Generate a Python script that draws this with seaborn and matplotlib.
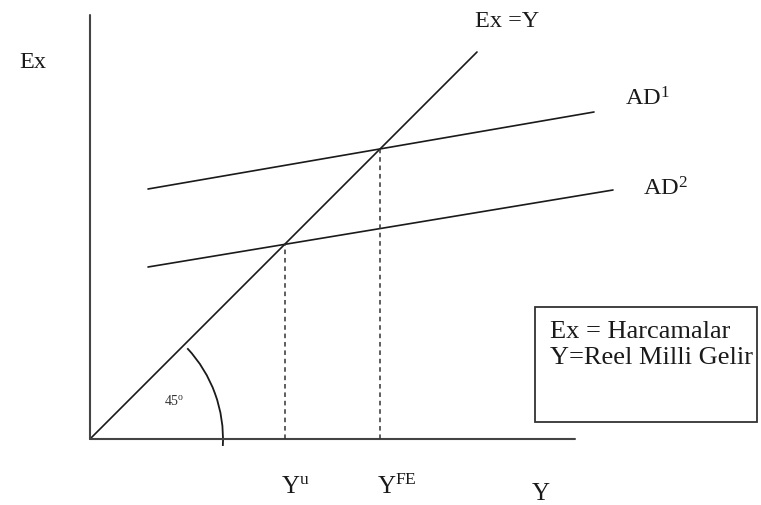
import matplotlib
matplotlib.use('Agg')
import matplotlib.pyplot as plt
from matplotlib.patches import Arc, Rectangle
import numpy as np
import seaborn as sns
import pandas as pd

# schematic values (income Y on x, spending Ex on y)
axis_len_x = 485
axis_len_y = 424
line45_x = [0, 387]
ad1_x = [58, 504]
ad1_y = [250, 327]
ad2_x = [58, 523]
ad2_y = [172, 249]
arc_radius = 133
legend_lines = ['Ex = Harcamalar', 'Y=Reel Milli Gelir']

sns.set_theme(style='white')
plt.rcParams['font.family'] = ['Liberation Serif', 'DejaVu Serif']
plt.rcParams['mathtext.fontset'] = 'custom'
plt.rcParams['mathtext.rm'] = 'Liberation Serif'
plt.rcParams['mathtext.it'] = 'Liberation Serif'

def crossing(xs, ys):
    # where the AD line meets Ex = Y
    m = (ys[1] - ys[0]) / (xs[1] - xs[0])
    b = ys[0] - m * xs[0]
    return b / (1 - m)

yu = crossing(ad2_x, ad2_y)
yfe = crossing(ad1_x, ad1_y)

lines = pd.DataFrame({
    'x': [0, axis_len_x, 0, 0] + line45_x + ad1_x + ad2_x,
    'y': [0, 0, 0, axis_len_y] + line45_x + ad1_y + ad2_y,
    'name': ['xaxis'] * 2 + ['yaxis'] * 2 + ['45'] * 2 + ['AD1'] * 2 + ['AD2'] * 2,
})
dashed = pd.DataFrame({
    'x': [yu, yu, yfe, yfe],
    'y': [0, yu, 0, yfe],
    'name': ['u', 'u', 'fe', 'fe'],
})

fig = plt.figure(figsize=(7.61, 5.06), dpi=100)
ax = fig.add_axes([0, 0, 1, 1])
ax.set_xlim(-90, 671)
ax.set_ylim(-66, 440)
ax.axis('off')

for name, grp in lines.groupby('name'):
    lw = 1.5 if 'axis' in name else 1.2
    col = '#444444' if 'axis' in name else '#1a1a1a'
    sns.lineplot(data=grp, x='x', y='y', ax=ax, color=col, linewidth=lw,
                 sort=False, estimator=None)
for name, grp in dashed.groupby('name'):
    sns.lineplot(data=grp, x='x', y='y', ax=ax, color='#333333', linewidth=1.1,
                 linestyle=(0, (3, 2.5)), sort=False, estimator=None)
ax.set_xlabel('')
ax.set_ylabel('')

ax.add_patch(Arc((0, 0), 2 * arc_radius, 2 * arc_radius, theta1=-3, theta2=43,
                 color='#1a1a1a', linewidth=1.3))
ax.text(84, 39, '45$^{\\mathrm{o}}$', fontsize=10, ha='center', va='center', color='#333333')

ax.text(-57, 378, 'Ex', fontsize=17.5, ha='center', va='center', color='#1a1a1a')
ax.text(385, 419, 'Ex =Y', fontsize=17.5, ha='left', va='center', color='#1a1a1a')
ax.text(535, 341, 'AD$^{\\mathrm{1}}$', fontsize=17.5, ha='left', va='center', color='#1a1a1a')
ax.text(553, 251, 'AD$^{\\mathrm{2}}$', fontsize=17.5, ha='left', va='center', color='#1a1a1a')
ax.text(yu + 11, -47, 'Y$^{\\mathrm{u}}$', fontsize=18, ha='center', va='center', color='#1a1a1a')
ax.text(yfe + 17, -47, 'Y$^{\\mathrm{FE}}$', fontsize=18, ha='center', va='center', color='#1a1a1a')
ax.text(451, -54, 'Y', fontsize=18, ha='center', va='center', color='#1a1a1a')

ax.add_patch(Rectangle((445, 17), 222, 115, fill=False, edgecolor='#333333', linewidth=1.3))
ax.text(460, 108, legend_lines[0], fontsize=19, ha='left', va='center', color='#1a1a1a')
ax.text(460, 82, legend_lines[1], fontsize=19, ha='left', va='center', color='#1a1a1a')

plt.savefig('out.png', dpi=100)
